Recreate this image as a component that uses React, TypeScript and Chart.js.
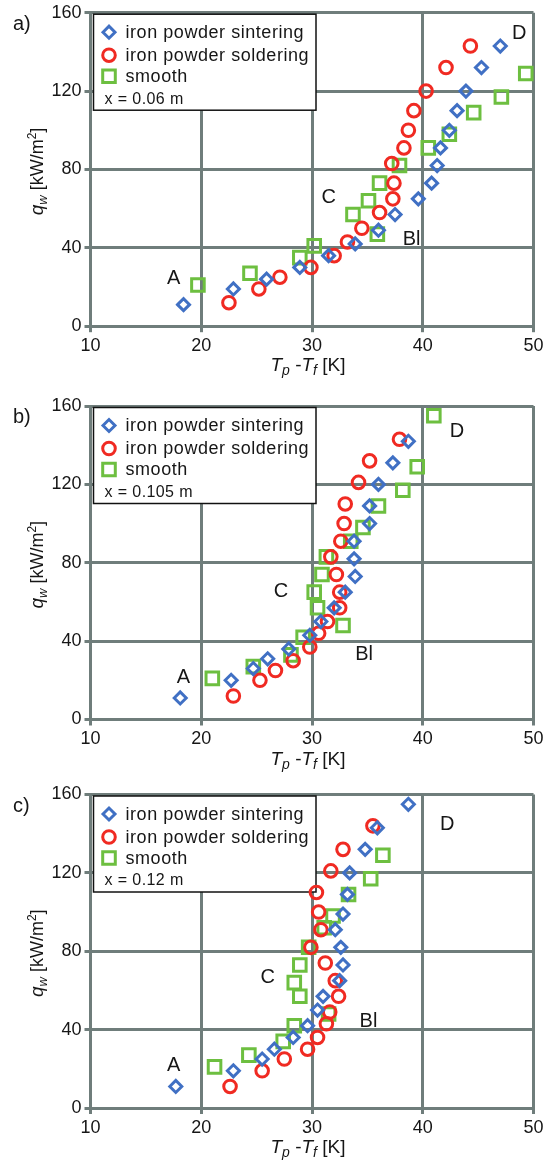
import React, { useEffect, useRef } from 'react';
import { Chart, registerables } from 'chart.js';

Chart.register(...registerables);

const FONT = '"Liberation Sans", Arial, Helvetica, sans-serif';
const GRID = '#6f7d7b';
const TEXT = '#161616';
const BLUE = '#4070c4';
const RED = '#f02a22';
const GREEN = '#6dbf40';

const xTicks = [10, 20, 30, 40, 50];
const yTicks = [0, 40, 80, 120, 160];
const seriesLabels = ['iron powder sintering', 'iron powder soldering', 'smooth'];
const panelLetters = ['a)', 'b)', 'c)'];
const positionTexts = ['x = 0.06 m', 'x = 0.105 m', 'x = 0.12 m'];
const regionNames = ['A', 'Bl', 'C', 'D'];

// panel a) x = 0.06 m
const aSinterX = [18.4, 22.9, 25.9, 28.9, 31.5, 33.9, 36.0, 37.5, 39.6, 40.8, 41.3, 41.6, 42.4, 43.1, 43.9, 45.3, 47.0];
const aSinterY = [11, 19, 24, 30, 36, 42, 49, 57, 65, 73, 82, 91, 100, 110, 120, 132, 143];
const aSolderX = [22.5, 25.2, 27.1, 29.9, 32.0, 33.2, 34.5, 36.1, 37.3, 37.4, 37.2, 38.3, 38.7, 39.2, 40.3, 42.1, 44.3];
const aSolderY = [12, 19, 25, 30, 36, 43, 50, 58, 65, 73, 83, 91, 100, 110, 120, 132, 143];
const aSmoothX = [19.7, 24.4, 28.9, 30.2, 33.7, 35.1, 36.1, 35.9, 37.9, 40.5, 42.4, 44.6, 47.1, 49.3];
const aSmoothY = [21, 27, 35, 41, 57, 64, 73, 47, 82, 91, 98, 109, 117, 129];
const aRegionX = [17.5, 39.0, 31.5, 48.7];
const aRegionY = [24.5, 44.3, 65.9, 149.2];

// panel b) x = 0.105 m
const bSinterX = [18.1, 22.7, 24.7, 26.0, 27.9, 29.8, 30.8, 32.0, 33.0, 33.9, 33.8, 33.8, 35.2, 35.2, 36.0, 37.3, 38.7];
const bSinterY = [11, 20, 26, 31, 36, 43, 50, 57, 65, 73, 82, 91, 100, 109, 120, 131, 142];
const bSolderX = [22.9, 25.3, 26.7, 28.3, 29.8, 30.6, 31.4, 32.5, 32.5, 32.2, 31.7, 32.6, 32.9, 33.0, 34.2, 35.2, 37.9];
const bSolderY = [12, 20, 25, 30, 37, 44, 50, 57, 65, 74, 83, 91, 100, 110, 121, 132, 143];
const bSmoothX = [21.0, 24.7, 28.1, 29.2, 32.8, 30.5, 30.2, 30.9, 31.3, 33.5, 34.6, 36.0, 38.2, 39.5, 41.0];
const bSmoothY = [21, 27, 33, 42, 48, 57, 65, 74, 83, 91, 98, 109, 117, 129, 155];
const bRegionX = [18.4, 34.7, 27.2, 43.1];
const bRegionY = [21.2, 33.4, 65.2, 147];

// panel c) x = 0.12 m
const cSinterX = [17.7, 22.9, 25.5, 26.6, 28.3, 29.6, 30.5, 31.0, 32.5, 32.8, 32.6, 32.1, 32.8, 33.2, 33.4, 34.8, 35.9, 38.7];
const cSinterY = [11, 19, 25, 30, 36, 42, 50, 57, 65, 73, 82, 91, 99, 109, 120, 132, 143, 155];
const cSolderX = [22.6, 25.5, 27.5, 29.6, 30.5, 31.3, 31.6, 32.4, 32.1, 31.2, 29.9, 30.8, 30.6, 30.4, 31.7, 32.8, 35.5];
const cSolderY = [11, 19, 25, 30, 36, 43, 49, 57, 65, 74, 82, 91, 100, 110, 121, 132, 144];
const cSmoothX = [21.2, 24.3, 27.4, 28.4, 31.5, 28.9, 28.4, 28.9, 29.7, 31.1, 31.9, 33.3, 35.3, 36.4];
const cSmoothY = [21, 27, 34, 42, 48, 57, 64, 73, 82, 92, 98, 109, 117, 129];
const cRegionX = [17.5, 35.1, 26.0, 42.2];
const cRegionY = [21.6, 44, 66.4, 144.9];

const panelData = [
  { sx: aSinterX, sy: aSinterY, ox: aSolderX, oy: aSolderY, mx: aSmoothX, my: aSmoothY, rx: aRegionX, ry: aRegionY },
  { sx: bSinterX, sy: bSinterY, ox: bSolderX, oy: bSolderY, mx: bSmoothX, my: bSmoothY, rx: bRegionX, ry: bRegionY },
  { sx: cSinterX, sy: cSinterY, ox: cSolderX, oy: cSolderY, mx: cSmoothX, my: cSmoothY, rx: cRegionX, ry: cRegionY },
];

// layout (pixels)
const CANVAS_W = 549;
const CANVAS_H = 386;
const PLOT_H = 313.5;
const panelTops = [0, 393, 781];
const panelPadTop = [12.7, 13, 13.5];
const MARK_LW = 3;

const zip = (xs: number[], ys: number[]) => xs.map((x, i) => ({ x, y: ys[i] }));

type Part = { t: string; it?: boolean; sz: number; dy?: number };

function drawParts(ctx: CanvasRenderingContext2D, parts: Part[], cx: number, baseline: number) {
  let total = 0;
  const widths = parts.map((p) => {
    ctx.font = `${p.it ? 'italic ' : ''}${p.sz}px ${FONT}`;
    const w = ctx.measureText(p.t).width;
    total += w;
    return w;
  });
  let x = cx - total / 2;
  ctx.textAlign = 'left';
  ctx.textBaseline = 'alphabetic';
  parts.forEach((p, i) => {
    ctx.font = `${p.it ? 'italic ' : ''}${p.sz}px ${FONT}`;
    ctx.fillText(p.t, x, baseline + (p.dy || 0));
    x += widths[i];
  });
}

function drawMarker(ctx: CanvasRenderingContext2D, kind: number, x: number, y: number) {
  ctx.beginPath();
  if (kind === 0) {
    const r = 6;
    ctx.moveTo(x - r, y);
    ctx.lineTo(x, y - r);
    ctx.lineTo(x + r, y);
    ctx.lineTo(x, y + r);
    ctx.closePath();
    ctx.strokeStyle = BLUE;
  } else if (kind === 1) {
    ctx.arc(x, y, 6.3, 0, Math.PI * 2);
    ctx.strokeStyle = RED;
  } else {
    ctx.rect(x - 6.3, y - 6.3, 12.6, 12.6);
    ctx.strokeStyle = GREEN;
  }
  ctx.lineWidth = MARK_LW;
  ctx.stroke();
}

const overlayPlugin = {
  id: 'overlay',
  beforeDatasetsDraw(chart: any) {
    const o = chart.options.plugins.overlay;
    const ctx: any = chart.ctx;
    const a = chart.chartArea;
    ctx.save();
    const bx = a.left + 3;
    const by = a.top + 1.5;
    const bw = 222.5;
    const bh = 96;
    ctx.fillStyle = '#ffffff';
    ctx.fillRect(bx, by, bw, bh);
    ctx.strokeStyle = '#111111';
    ctx.lineWidth = 1.5;
    ctx.strokeRect(bx, by, bw, bh);
    const rows = [18, 41, 62];
    seriesLabels.forEach((lab, i) => {
      drawMarker(ctx, i, bx + 15.5, by + rows[i]);
      ctx.fillStyle = TEXT;
      ctx.font = `18px ${FONT}`;
      ctx.letterSpacing = '0.55px';
      ctx.textAlign = 'left';
      ctx.textBaseline = 'middle';
      ctx.fillText(lab, bx + 32, by + rows[i] + 1);
    });
    ctx.font = `16px ${FONT}`;
    ctx.letterSpacing = '0.4px';
    ctx.fillStyle = TEXT;
    ctx.textBaseline = 'middle';
    ctx.fillText(o.posText, bx + 11, by + 85);
    ctx.letterSpacing = '0px';
    ctx.restore();
  },
  afterDraw(chart: any) {
    const o = chart.options.plugins.overlay;
    const ctx: CanvasRenderingContext2D = chart.ctx;
    const a = chart.chartArea;
    const xs = chart.scales.x;
    const ys = chart.scales.y;
    ctx.save();
    ctx.fillStyle = TEXT;
    // panel letter
    ctx.font = `20px ${FONT}`;
    ctx.textAlign = 'left';
    ctx.textBaseline = 'alphabetic';
    ctx.fillText(o.letter, 13, a.top + 17);
    // region labels
    ctx.font = `20px ${FONT}`;
    ctx.textAlign = 'center';
    ctx.textBaseline = 'middle';
    regionNames.forEach((n, i) => {
      ctx.fillText(n, xs.getPixelForValue(o.rx[i]), ys.getPixelForValue(o.ry[i]));
    });
    // x title
    drawParts(
      ctx,
      [
        { t: 'T', it: true, sz: 19 },
        { t: 'p', it: true, sz: 14, dy: 4 },
        { t: ' -', sz: 19 },
        { t: 'T', it: true, sz: 19 },
        { t: 'f', it: true, sz: 14, dy: 4 },
        { t: ' [K]', sz: 19 },
      ],
      308,
      a.bottom + 45
    );
    // y title
    ctx.translate(37, (a.top + a.bottom) / 2 + 2);
    ctx.rotate(-Math.PI / 2);
    drawParts(
      ctx,
      [
        { t: 'q', it: true, sz: 19 },
        { t: 'w', it: true, sz: 13, dy: 4 },
        { t: ' [kW/m', sz: 18 },
        { t: '2', sz: 12, dy: -7 },
        { t: ']', sz: 18 },
      ],
      0,
      6
    );
    ctx.restore();
  },
};

function makeChart(canvas: HTMLCanvasElement, idx: number) {
  const d = panelData[idx];
  const padTop = panelPadTop[idx];
  const xAxisH = CANVAS_H - padTop - PLOT_H;
  const common = { showLine: false, borderWidth: MARK_LW, backgroundColor: 'rgba(0,0,0,0)', clip: false as any };
  return new Chart(canvas, {
    type: 'scatter',
    data: {
      datasets: [
        { ...common, label: seriesLabels[0], data: zip(d.sx, d.sy), pointStyle: 'rectRot', pointRadius: 6, borderColor: BLUE },
        { ...common, label: seriesLabels[1], data: zip(d.ox, d.oy), pointStyle: 'circle', pointRadius: 6.3, borderColor: RED },
        { ...common, label: seriesLabels[2], data: zip(d.mx, d.my), pointStyle: 'rect', pointRadius: 8.9, borderColor: GREEN },
      ],
    },
    options: {
      responsive: false,
      animation: false,
      devicePixelRatio: 1,
      layout: { padding: { top: padTop, right: CANVAS_W - 533.5, bottom: 0, left: 0 } },
      plugins: {
        legend: { display: false },
        tooltip: { enabled: false },
        overlay: { letter: panelLetters[idx], posText: positionTexts[idx], rx: d.rx, ry: d.ry },
      } as any,
      scales: {
        x: {
          type: 'linear',
          min: xTicks[0],
          max: xTicks[xTicks.length - 1],
          afterBuildTicks: (s: any) => {
            s.ticks = xTicks.map((v) => ({ value: v }));
          },
          afterFit: (s: any) => {
            s.height = xAxisH;
            s.paddingLeft = 0;
            s.paddingRight = 0;
          },
          grid: { color: GRID, lineWidth: 3, tickLength: 6, tickColor: GRID, tickWidth: 3, drawTicks: true },
          border: { display: true, color: GRID, width: 3 },
          ticks: { font: { size: 18, family: FONT }, color: TEXT, padding: 3, maxRotation: 0, autoSkip: false },
        },
        y: {
          type: 'linear',
          min: yTicks[0],
          max: yTicks[yTicks.length - 1],
          afterBuildTicks: (s: any) => {
            s.ticks = yTicks.map((v) => ({ value: v }));
          },
          afterFit: (s: any) => {
            s.width = 90.5;
            s.paddingTop = 0;
            s.paddingBottom = 0;
          },
          grid: { color: GRID, lineWidth: 3, tickLength: 6, tickColor: GRID, tickWidth: 3, drawTicks: true },
          border: { display: true, color: GRID, width: 3 },
          ticks: { font: { size: 18, family: FONT }, color: TEXT, padding: 3, autoSkip: false },
        },
      },
    },
    plugins: [overlayPlugin],
  } as any);
}

export default function App() {
  const r0 = useRef<HTMLCanvasElement>(null);
  const r1 = useRef<HTMLCanvasElement>(null);
  const r2 = useRef<HTMLCanvasElement>(null);

  useEffect(() => {
    document.body.style.margin = '0';
    const refs = [r0, r1, r2];
    const charts = refs.map((r, i) => makeChart(r.current as HTMLCanvasElement, i));
    return () => charts.forEach((c) => c.destroy());
  }, []);

  const refs = [r0, r1, r2];
  return (
    <div style={{ position: 'relative', width: CANVAS_W, height: 1169, background: '#fff', overflow: 'hidden' }}>
      {refs.map((r, i) => (
        <canvas
          key={i}
          ref={r}
          width={CANVAS_W}
          height={CANVAS_H}
          style={{ position: 'absolute', left: 0, top: panelTops[i], width: CANVAS_W, height: CANVAS_H }}
        />
      ))}
    </div>
  );
}
